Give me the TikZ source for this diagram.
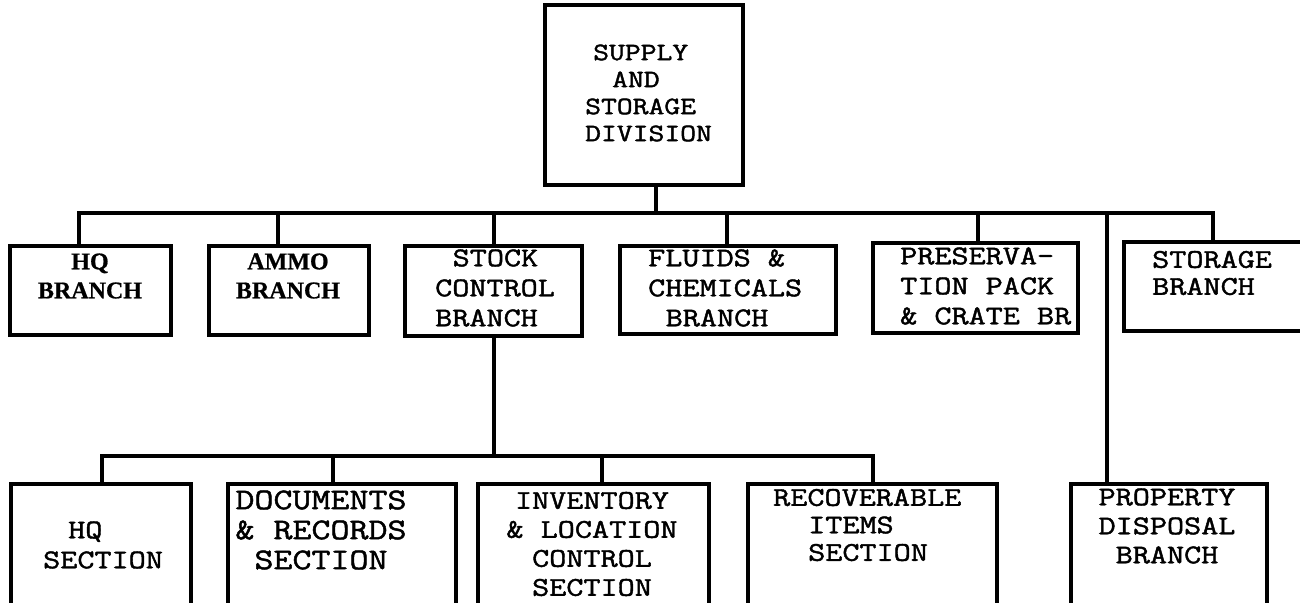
\documentclass[tikz,border=0pt]{standalone}
\usepackage{fontspec}
\setmainfont{Liberation Serif}
\newfontfamily\typew{Latin Modern Mono}[FakeStretch=1.23, FakeBold=1.6]
\newfontfamily\serb{Liberation Serif}[FakeBold=0.8]
\usetikzlibrary{fit}

\begin{document}
\begin{tikzpicture}[x=1pt,y=-1pt,
  box/.style={draw, line width=4.2pt, inner sep=0pt, rectangle},
  wire/.style={line width=3.6pt, line join=miter},
  tw/.style={font=\typew\fontsize{27}{30}\selectfont, inner sep=0pt},
  twbig/.style={font=\typew\fontsize{30}{30}\selectfont, inner sep=0pt},
  twtop/.style={font=\typew\fontsize{25}{27}\selectfont, inner sep=0pt},
  serb/.style={font=\serb\bfseries\fontsize{24}{29}\selectfont, inner sep=0pt}]

\useasboundingbox (0,0) rectangle (1300,602);
\clip (0,0) rectangle (1300,602);

% division box
\node[box, fit={(545,5) (743,185)}] (top) {};
\node[twtop, align=left, anchor=west] (top-t) at (585,93)
  {\hspace*{8pt}SUPPLY\\\hspace*{27pt}AND\\STORAGE\\DIVISION};

% branches
\node[box, fit={(10,246) (171,335)}] (hqb) {};
\node[box, fit={(209,246) (369,335)}] (ammo) {};
\node[box, fit={(405,246) (582,336)}] (stock) {};
\node[box, fit={(620,246) (836,334)}] (fluids) {};
\node[box, fit={(873,243) (1078,333)}] (pres) {};
\node[box, fit={(1124,242) (1330,331)}] (stor) {};

\node[serb, align=center] (hqb-t) at (90,276) {HQ\\BRANCH};
\node[serb, align=center] (ammo-t) at (288,276) {AMMO\\BRANCH};
\node[tw, align=left, anchor=west] (stock-t) at (435,288)
  {\hspace*{17.5pt}STOCK\\CONTROL\\BRANCH};
\node[tw, align=left, anchor=west] (fluids-t) at (648,288)
  {FLUIDS \&\\CHEMICALS\\\hspace*{17.5pt}BRANCH};
\node[tw, align=left, anchor=west] (pres-t) at (900,286)
  {PRESERVA-\\TION PACK\\\& CRATE BR};
\node[tw, align=left, anchor=west, font=\typew\fontsize{27}{27}\selectfont] (stor-t) at (1152,273)
  {STORAGE\\BRANCH};

% sections and property disposal
\node[box, fit={(11,484) (191,612)}] (hqs) {};
\node[box, fit={(228,484) (456,612)}] (docs) {};
\node[box, fit={(478,484) (709,612)}] (inv) {};
\node[box, fit={(748,484) (997,612)}] (rec) {};
\node[box, fit={(1071,484) (1267,612)}] (prop) {};

\node[tw, align=left, anchor=west] (hqs-t) at (43,545)
  {\hspace*{25pt}HQ\\SECTION};
\node[twbig, align=center] (docs-t) at (321,530)
  {DOCUMENTS\\\& RECORDS\\SECTION};
\node[tw, align=center, font=\typew\fontsize{27}{29}\selectfont] (inv-t) at (592,544)
  {INVENTORY\\\& LOCATION\\CONTROL\\SECTION};
\node[tw, align=left, anchor=west, font=\typew\fontsize{27}{27.5}\selectfont] (rec-t) at (773,525)
  {RECOVERABLE\\\hspace*{35pt}ITEMS\\\hspace*{35pt}SECTION};
\node[tw, align=center, font=\typew\fontsize{27}{29}\selectfont] (prop-t) at (1167,526)
  {PROPERTY\\DISPOSAL\\BRANCH};

% junction points on the buses
\coordinate (j0) at (656,213);
\coordinate (j1) at (79,213);
\coordinate (j2) at (278,213);
\coordinate (j3) at (494,213);
\coordinate (j4) at (727,213);
\coordinate (j5) at (978,213);
\coordinate (j6) at (1107,213);
\coordinate (j7) at (1213,213);
\coordinate (k0) at (494,456);
\coordinate (k1) at (102,456);
\coordinate (k2) at (333,456);
\coordinate (k3) at (602,456);
\coordinate (k4) at (873,456);

% main bus
\draw[wire] (top.south -| j0) -- (j0);
\draw[wire] (hqb.north -| j1) -- (j1) -- (j7) -- (j7 |- stor.north);
\draw[wire] (j2) -- (j2 |- ammo.north);
\draw[wire] (j3) -- (j3 |- stock.north);
\draw[wire] (j4) -- (j4 |- fluids.north);
\draw[wire] (j5) -- (j5 |- pres.north);
\draw[wire] (j6) -- (j6 |- prop.north);

% stock control sub-bus
\draw[wire] (stock.south -| k0) -- (k0);
\draw[wire] (hqs.north -| k1) -- (k1) -- (k4) -- (k4 |- rec.north);
\draw[wire] (k2) -- (k2 |- docs.north);
\draw[wire] (k3) -- (k3 |- inv.north);
\end{tikzpicture}
\end{document}
